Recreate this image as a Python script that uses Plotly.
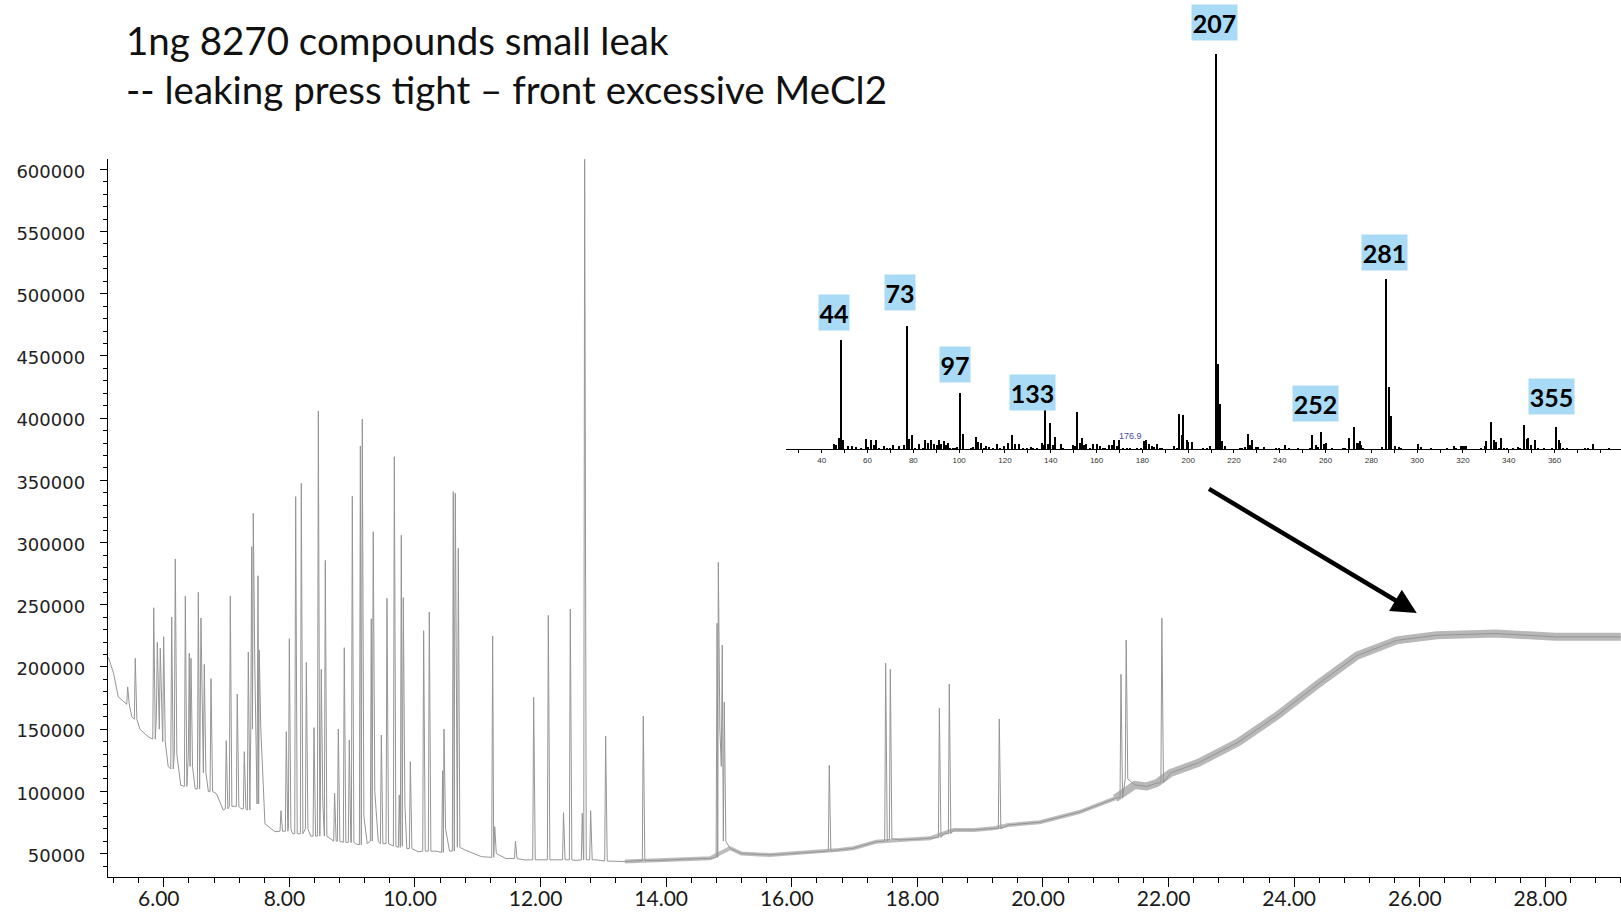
import plotly.graph_objects as go

# ---------------- chromatogram (TIC) ----------------
# retention time (min) of each peak apex, apex abundance, abundance at the peak foot
peak_rt = [5.425, 5.546, 5.840, 5.897, 5.944, 5.998, 6.126, 6.183, 6.343, 6.406,
           6.433, 6.550, 6.592, 6.645, 6.752, 6.995, 7.059, 7.170, 7.282, 7.346,
           7.400, 7.425, 7.500, 7.520, 7.866, 7.951, 7.999, 8.100, 8.190, 8.270,
           8.392, 8.461, 8.508, 8.572, 8.720, 8.779, 8.874, 8.954, 9.002, 9.130,
           9.161, 9.304, 9.335, 9.464, 9.554, 9.671, 9.750, 9.782, 9.814, 9.926,
           10.138, 10.228, 10.440, 10.462, 10.610, 10.642, 10.690, 11.237, 11.270, 11.600,
           11.890, 12.123, 12.365, 12.473, 12.664, 12.702, 12.797, 13.036, 13.635, 14.810,
           14.830, 14.893, 14.925, 16.597, 17.495, 17.569, 18.350, 18.508, 19.304, 21.242,
           21.325, 21.893]
peak_top = [184000, 207000, 247600, 219800, 215000, 224300, 240200, 286800, 257000, 211000,
            207000, 260000, 239400, 202100, 190600, 140700, 257000, 178300, 131900, 212000,
            296700, 323500, 273300, 213600, 84500, 148000, 222700, 336900, 347600, 203700,
            151200, 405700, 198100, 285700, 98500, 150100, 215500, 141300, 337200, 377600,
            399300, 238800, 308700, 145300, 255200, 369000, 97100, 305800, 255700, 123900,
            229200, 244200, 116600, 150100, 340900, 339600, 295400, 224900, 71600, 60100,
            175600, 241500, 82900, 246600, 82400, 608000, 84500, 144500, 160600, 235100,
            284100, 217600, 171600, 121000, 203000, 198100, 166800, 186300, 158200, 194100,
            221600, 239200]
peak_foot = [170000, 158000, 142000, 160000, 150000, 140000, 118000, 130000, 104000, 130000,
             120000, 102000, 140000, 115000, 100000, 86000, 88000, 88000, 86000, 85000,
             150000, 200000, 90000, 150000, 68000, 68000, 70000, 66000, 66000, 70000,
             64000, 64000, 90000, 64000, 60000, 60000, 59000, 59000, 59000, 57000,
             80000, 60000, 100000, 58000, 58000, 56000, 55000, 56000, 90000, 54000,
             52000, 52000, 51000, 70000, 52000, 150000, 55000, 47000, 50000, 46000,
             45000, 45000, 45000, 45000, 45000, 45000, 45000, 44000, 44500, 47000,
             150000, 120000, 60000, 52000, 60000, 62000, 63000, 66000, 70000, 95000,
             110000, 107000]

# baseline (between peaks)
base_rt = [5.116, 5.200, 5.275, 5.360, 5.490, 5.620, 5.750, 6.070, 6.270, 6.500,
           6.710, 6.840, 6.947, 7.120, 7.230, 7.611, 7.770, 8.050, 8.340, 8.670,
           9.050, 9.240, 9.416, 9.610, 9.870, 10.050, 10.330, 10.550, 10.796, 11.060,
           11.450, 11.750, 12.000, 12.250, 12.550, 12.900, 13.340, 13.900, 14.300, 14.700,
           15.016, 15.200, 15.650, 16.000, 16.450, 16.750, 16.980, 17.350, 17.720, 18.000,
           18.200, 18.430, 18.572, 18.900, 19.210, 19.448, 19.947, 20.580, 21.148, 21.463,
           21.650, 21.810, 22.030, 22.475, 23.107, 23.740, 24.370, 25.000, 25.634, 26.270,
           27.210, 28.160, 29.200]
base_ab = [208000, 195000, 176000, 172000, 160000, 150000, 144000, 120000, 105000, 102000,
           100000, 98000, 85000, 88000, 86000, 74000, 67600, 66000, 64000, 61000,
           58000, 58000, 59600, 57000, 54000, 51500, 52000, 52000, 52900, 47500,
           46000, 44900, 45000, 45000, 44500, 44900, 43600, 44500, 45500, 46200,
           54300, 50000, 48900, 50000, 51600, 53000, 54300, 59600, 61000, 61500,
           62300, 66500, 69000, 69000, 70300, 73000, 75200, 83400, 94300, 105200,
           104000, 106600, 114800, 123000, 139400, 161300, 185900, 209100, 221400, 225500,
           226900, 224200, 224200]

x_tick_step = 2
y_tick_step = 50000

# ---------------- inset mass spectrum ----------------
ms_mz = [45.5, 46.2, 47.7, 48.6, 49.4, 51.6, 53.5, 55.0, 57.3, 59.6,
         60.5, 61.8, 62.7, 63.6, 64.9, 67.4, 68.7, 69.8, 71.3, 73.9,
         75.9, 77.4, 78.3, 79.6, 80.7, 82.6, 84.1, 85.3, 86.7, 88.0,
         89.0, 90.2, 91.5, 92.2, 93.5, 94.3, 95.3, 96.3, 97.2, 98.1,
         99.2, 100.5, 101.8, 105.3, 106.2, 107.5, 108.5, 109.7, 110.9, 112.0,
         113.2, 114.9, 116.8, 117.9, 119.6, 121.5, 123.1, 124.6, 126.0, 128.1,
         129.8, 131.3, 132.4, 133.9, 136.1, 136.8, 137.7, 138.7, 139.7, 141.2,
         142.0, 144.4, 145.5, 149.9, 150.6, 151.6, 152.9, 153.8, 154.7, 155.6,
         157.2, 158.6, 160.4, 161.5, 162.7, 163.7, 165.6, 166.8, 167.8, 168.8,
         170.0, 171.7, 173.2, 174.9, 177.8, 179.7, 180.9, 181.8, 183.1, 184.1,
         185.0, 186.3, 187.7, 188.8, 194.0, 195.0, 196.0, 197.2, 197.9, 199.4,
         200.2, 201.9, 206.7, 208.1, 209.8, 212.1, 213.2, 214.1, 215.0, 216.3,
         222.5, 223.4, 225.1, 226.3, 227.2, 228.1, 229.5, 230.4, 233.4, 238.4,
         239.8, 242.2, 244.2, 248.1, 253.5, 254.3, 255.9, 256.9, 258.2, 259.5,
         260.4, 262.7, 267.9, 268.7, 270.4, 272.6, 273.6, 274.3, 274.9, 275.6,
         276.4, 284.8, 286.6, 287.6, 288.7, 290.6, 292.2, 293.1, 300.5, 301.6,
         305.9, 312.9, 316.3, 317.0, 319.0, 320.2, 320.9, 321.6, 327.8, 329.5,
         330.2, 332.4, 333.7, 334.6, 335.9, 336.8, 337.9, 339.1, 342.0, 344.2,
         344.9, 346.8, 347.9, 348.6, 349.9, 351.6, 353.0, 355.4, 358.8, 360.9,
         361.8, 362.5, 363.9, 365.3, 373.3, 374.8, 377.0, 384.0]
ms_ab = [1.35, 1.1, 2.8, 27.6, 2.5, 1.0, 1.0, 0.6, 0.5, 2.6,
         0.7, 2.3, 1.1, 2.5, 0.5, 0.8, 0.5, 0.5, 1.1, 1.0,
         1.1, 31.2, 2.6, 3.6, 0.5, 1.5, 0.5, 2.4, 1.7, 2.4,
         1.35, 1.1, 2.5, 1.35, 2.1, 1.1, 1.6, 0.5, 0.5, 0.5,
         0.6, 14.2, 4.0, 0.3, 0.7, 3.1, 1.9, 1.6, 0.5, 0.8,
         0.7, 0.4, 1.35, 0.5, 1.0, 1.6, 3.6, 1.35, 1.35, 0.3,
         0.5, 0.7, 0.5, 0.5, 1.6, 1.2, 10.4, 1.35, 6.7, 1.1,
         3.1, 1.35, 0.5, 1.1, 0.8, 9.4, 1.6, 2.8, 1.1, 1.35,
         0.5, 1.35, 1.5, 0.8, 0.5, 0.5, 1.1, 1.1, 2.3, 0.8,
         2.3, 0.3, 0.4, 0.5, 0.5, 0.3, 2.1, 2.3, 1.3, 1.0,
         0.7, 1.3, 0.5, 0.3, 1.0, 0.5, 9.1, 3.6, 8.7, 2.3,
         2.0, 1.8, 0.5, 0.5, 0.9, 100.0, 21.6, 11.5, 2.1, 0.8,
         0.4, 0.4, 0.7, 4.0, 1.1, 2.4, 0.6, 0.6, 0.6, 0.3,
         0.3, 1.1, 0.4, 0.2, 0.4, 3.6, 1.1, 0.6, 4.4, 1.4,
         1.6, 0.3, 0.4, 0.4, 2.9, 5.6, 1.7, 1.7, 2.1, 1.1,
         0.5, 0.6, 43.2, 15.8, 8.4, 0.8, 0.6, 0.3, 1.35, 0.6,
         0.3, 0.3, 0.8, 0.4, 1.0, 0.8, 1.0, 1.0, 0.3, 0.8,
         2.1, 6.9, 2.4, 1.9, 0.5, 2.8, 0.5, 0.3, 0.3, 0.6,
         0.5, 6.2, 2.6, 2.9, 1.1, 2.4, 0.3, 0.3, 0.3, 5.6,
         2.4, 1.7, 0.5, 0.5, 0.3, 0.5, 1.35, 0.5]
ms_ticks = [40, 60, 80, 100, 120, 140, 160, 180, 200, 220, 240, 260, 280, 300, 320, 340, 360]
ms_labels = ["44", "73", "97", "133", "207", "252", "281", "355"]
ms_extra_label = "176.9"

title_lines = ["1ng 8270 compounds small leak",
               "-- leaking press tight \u2013 front excessive MeCl2"]

assert len(peak_rt) == len(peak_top) == len(peak_foot)
assert len(base_rt) == len(base_ab)
assert len(ms_mz) == len(ms_ab)

# ---------------- build chromatogram line ----------------
W, H = 1621, 912
LEFT_W, RIGHT_W = 0.015, 0.025   # peak shape (min)
pts = []
n = len(peak_rt)
for i in range(n):
    rt = peak_rt[i]
    lw = LEFT_W if i == 0 else min(LEFT_W, (rt - peak_rt[i - 1]) / 2)
    rw = RIGHT_W if i == n - 1 else min(RIGHT_W, (peak_rt[i + 1] - rt) / 2)
    pts += [(rt - lw, 0, peak_foot[i]), (rt, 1, peak_top[i]), (rt + rw, 2, peak_foot[i])]
for t, a in zip(base_rt, base_ab):
    if min(abs(t - r) for r in peak_rt) > 0.03:
        pts.append((t, 0, a))
pts.sort(key=lambda p: (p[0], p[1]))
chrom_t = [p[0] for p in pts]
chrom_a = [p[2] for p in pts]

# baseline noise bands (visual thickness of the noisy baseline)
band1_t = [t for t in base_rt if 13.3 <= t <= 21.2]
band1_a = [a for t, a in zip(base_rt, base_ab) if 13.3 <= t <= 21.2]
band2_t = [t for t in base_rt if t >= 21.1]
band2_a = [a for t, a in zip(base_rt, base_ab) if t >= 21.1]

fig = go.Figure()
fig.add_trace(go.Scatter(x=band1_t, y=band1_a, mode="lines",
                         line=dict(color="#bdbdbd", width=4),
                         hoverinfo="skip", xaxis="x", yaxis="y"))
fig.add_trace(go.Scatter(x=band2_t, y=band2_a, mode="lines",
                         line=dict(color="#b8b8b8", width=8),
                         hoverinfo="skip", xaxis="x", yaxis="y"))
fig.add_trace(go.Scatter(x=chrom_t, y=chrom_a, mode="lines",
                         line=dict(color="#959595", width=1),
                         xaxis="x", yaxis="y"))
fig.add_trace(go.Bar(x=ms_mz, y=ms_ab, width=0.6,
                     marker=dict(color="black", line=dict(width=0)),
                     xaxis="x2", yaxis="y2"))

# pixel layout helpers
def px(x):
    return x / W

def py(y):
    return 1 - y / H

fig.update_layout(
    width=W, height=H, autosize=False,
    margin=dict(l=0, r=0, t=0, b=0),
    paper_bgcolor="white", plot_bgcolor="rgba(0,0,0,0)",
    showlegend=False, bargap=0,
    xaxis=dict(domain=[px(107.7), 1], range=[5.107, 29.204], anchor="y",
               tickmode="linear", tick0=0, dtick=x_tick_step, tickformat=".2f",
               ticks="outside", ticklen=9, tickwidth=1, tickcolor="black",
               showline=True, linecolor="black", linewidth=1,
               showgrid=False, zeroline=False, automargin=False,
               ticklabelstandoff=-6, ticklabelshift=-5,
               tickfont=dict(family="Lato", size=21, color="#1a1a1a"),
               minor=dict(ticks="outside", ticklen=5, tickwidth=1, tickcolor="black",
                          tick0=0, dtick=0.4, showgrid=False)),
    yaxis=dict(domain=[py(876.8), py(158.9)], range=[31354, 608360], anchor="x",
               tickmode="linear", tick0=0, dtick=y_tick_step, tickformat="d",
               ticks="outside", ticklen=7, tickwidth=1, tickcolor="black",
               showline=True, linecolor="black", linewidth=1,
               showgrid=False, zeroline=False, automargin=False,
               ticklabelstandoff=11, ticklabelshift=2,
               tickfont=dict(family="DejaVu Sans", size=18, color="#222222"),
               minor=dict(ticks="outside", ticklen=4, tickwidth=1, tickcolor="black",
                          tick0=0, dtick=10000, showgrid=False)),
    xaxis2=dict(domain=[px(786), 1], range=[24.4, 389.0], anchor="y2",
                tickmode="array", tickvals=ms_ticks, ticktext=[str(v) for v in ms_ticks],
                ticks="outside", ticklen=3, tickwidth=1, tickcolor="black",
                showline=True, linecolor="black", linewidth=1,
                showgrid=False, zeroline=False, automargin=False,
                ticklabelstandoff=0,
                tickfont=dict(family="Liberation Sans", size=8, color="#333333"),
                minor=dict(ticks="outside", ticklen=3, tickwidth=1, tickcolor="black",
                           tick0=0, dtick=10, showgrid=False)),
    yaxis2=dict(domain=[py(449.3), py(53.8)], range=[0, 100], anchor="x2",
                visible=False, showgrid=False, zeroline=False),
)

annotations = []
# title
for line, yc in zip(title_lines, [39.5, 89.0]):
    annotations.append(dict(text=line, x=px(124), y=py(yc), xref="paper", yref="paper",
                            xanchor="left", yanchor="middle", showarrow=False,
                            font=dict(family="Lato", size=38.5, color="#111111")))
# blue boxes with ion labels
label_centers = [(834, 312.5), (899.5, 292.5), (955, 364.5), (1032.5, 392.5),
                 (1214.7, 22.7), (1315.3, 403.2), (1384.5, 252.5), (1551.5, 396.5)]
for lab, (cx, cy) in zip(ms_labels, label_centers):
    annotations.append(dict(text="<b>" + lab + "</b>", x=px(cx), y=py(cy),
                            xref="paper", yref="paper", xanchor="center", yanchor="middle",
                            showarrow=False, bgcolor="#a9dbf7", borderpad=0,
                            width=15 * len(lab), height=35,
                            font=dict(family="Lato", size=25, color="black")))
annotations.append(dict(text=ms_extra_label, x=px(1130.7), y=py(435.7), xref="paper", yref="paper",
                        xanchor="center", yanchor="middle",
                        showarrow=False, font=dict(family="Liberation Sans", size=9, color="#4a4aa8")))
# arrow
annotations.append(dict(text="", x=px(1416.7), y=py(613), xref="paper", yref="paper",
                        ax=1207.5 - 1416.7, ay=488 - 613, axref="pixel", ayref="pixel",
                        showarrow=True, arrowhead=2, arrowsize=1.1, arrowwidth=4.5,
                        arrowcolor="black"))
fig.update_layout(annotations=annotations)

fig.write_html("out.html")
